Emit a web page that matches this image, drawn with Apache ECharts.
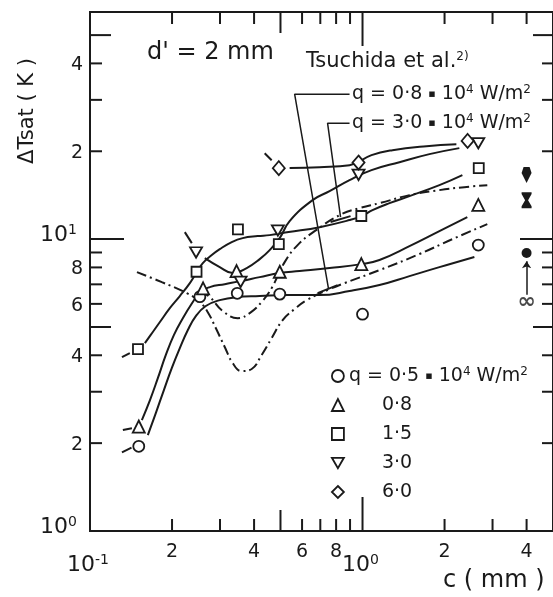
<!DOCTYPE html>
<html>
<head>
<meta charset="utf-8">
<script src="https://cdn.jsdelivr.net/npm/echarts@6/dist/echarts.min.js"></script>
<style>
  html, body { margin: 0; padding: 0; background: #fff; }
  #chart { width: 553px; height: 597px; }
</style>
</head>
<body>
<div id="chart"></div>
<script>
// Measured points: [c (mm), ΔTsat (K)] for each heat flux q (10^4 W/m²)
const q05Points = [[0.151, 1.95], [0.253, 6.35], [0.347, 6.52], [0.497, 6.48], [1.0, 5.53], [2.66, 9.54]];
const q08Points = [[0.151, 2.28], [0.26, 6.78], [0.345, 7.77], [0.497, 7.73], [0.99, 8.21], [2.66, 13.1]];
const q15Points = [[0.15, 4.2], [0.246, 7.73], [0.349, 10.8], [0.493, 9.61], [0.99, 12.0], [2.67, 17.5]];
const q30Points = [[0.245, 9.0], [0.357, 7.14], [0.489, 10.7], [0.967, 16.6], [2.66, 21.3]];
const q60Points = [[0.493, 17.5], [0.967, 18.3], [2.43, 21.7]];

// Faired curves through the measurements (short lead-in strokes drawn separately)
const q05Lead = [[0.131, 1.86], [0.142, 1.93]];
const q05Curve = [[0.163, 2.13], [0.1745, 2.54], [0.1867, 3.04], [0.1997, 3.62], [0.2136, 4.23], [0.2286, 4.88],
  [0.2445, 5.45], [0.266, 5.90], [0.2993, 6.18], [0.3455, 6.33], [0.4195, 6.38], [0.5313, 6.43], [0.6958, 6.43],
  [0.8962, 6.64], [1.154, 6.96], [1.487, 7.47], [1.915, 8.02], [2.573, 8.68]];
const q08Lead = [[0.132, 2.22], [0.1425, 2.25]];
const q08Curve = [[0.155, 2.40], [0.166, 2.81], [0.1774, 3.34], [0.1898, 4.01], [0.2031, 4.69], [0.2191, 5.36],
  [0.2384, 6.09], [0.2529, 6.58], [0.2752, 6.85], [0.3122, 7.01], [0.3574, 7.18], [0.4195, 7.41], [0.4966, 7.65],
  [0.5877, 7.77], [0.757, 7.96], [0.9916, 8.21], [1.154, 8.48], [1.487, 9.46], [1.915, 10.65], [2.424, 11.89]];
const q15Lead = [[0.131, 3.94], [0.140, 4.07]];
const q15Curve = [[0.159, 4.40], [0.169, 4.77], [0.1805, 5.20], [0.1963, 5.80], [0.2136, 6.38], [0.2325, 7.07],
  [0.2466, 7.71], [0.2594, 8.28], [0.2798, 8.82], [0.2993, 9.24], [0.3312, 9.77], [0.3634, 10.08], [0.4125, 10.24],
  [0.4564, 10.32], [0.5357, 10.57], [0.6958, 10.99], [0.8962, 11.62], [0.9916, 11.99], [1.088, 12.57],
  [1.256, 13.28], [1.487, 14.04], [1.915, 15.31], [2.325, 16.57]];
const q30Lead = [[0.2228, 10.57], [0.2364, 9.69]];
const q30Curve = [[0.2638, 8.61], [0.2993, 8.02], [0.334, 7.65], [0.3759, 7.96], [0.4195, 8.54], [0.4564, 9.17],
  [0.4966, 10.08], [0.5402, 11.53], [0.6559, 13.60], [0.757, 14.6], [0.8962, 15.93], [1.079, 17.23],
  [1.366, 18.35], [1.76, 19.55], [2.266, 20.50]];
const q60Lead = [[0.4375, 19.70], [0.4642, 18.64]];
const q60Curve = [[0.5402, 17.51], [0.6958, 17.64], [0.8962, 17.92], [1.079, 19.40], [1.288, 20.17],
  [1.716, 20.82], [2.21, 21.15]];

// Tsuchida et al. correlations, q = 0.8 and 3.0 x 10^4 W/m²
const tsuchida08 = [[0.1487, 7.71], [0.1835, 7.12], [0.2266, 6.53], [0.2529, 6.09], [0.2705, 5.62], [0.2894, 4.96],
  [0.3122, 4.27], [0.334, 3.76], [0.3604, 3.53], [0.3921, 3.59], [0.4266, 4.01], [0.4642, 4.58], [0.5094, 5.28],
  [0.5635, 5.76], [0.6236, 6.18], [0.757, 6.74], [0.8592, 7.07], [1.154, 7.83], [1.618, 8.89], [2.137, 10.0],
  [2.870, 11.25]];
const tsuchida30 = [[0.2529, 6.64], [0.2752, 6.33], [0.307, 5.67], [0.3484, 5.36], [0.3856, 5.58], [0.4266, 6.09],
  [0.4642, 6.80], [0.518, 8.34], [0.5779, 9.54], [0.6672, 10.65], [0.8377, 12.18], [0.975, 12.77], [1.154, 13.28],
  [1.487, 14.15], [1.915, 14.72], [2.364, 15.07], [2.870, 15.31]];

// Leader lines from the correlation labels to their curves
const leader08 = [[0.8962, 31.38], [0.5635, 31.38], [0.7507, 6.74]];
const leader08Bar = [[0.6843, 6.53], [0.8098, 6.96]];
const leader30 = [[0.8962, 24.96], [0.7443, 24.96], [0.8306, 11.89]];
const leader30Bar = [[0.7636, 11.44], [0.9036, 11.99]];

// Values for an unconfined gap (c -> ∞), plotted at the right margin
const poolQ60 = [[4.0, 16.6]];
const poolQ30 = [[4.0, 13.6]];
const poolQ05 = [[4.0, 8.96]];
const infinityMark = [[4.0, 6.08]];
const infinityArrow = [[4.0, 6.45], [4.0, 8.4]];

// Axis ticks and labels
const xMinorTicks = [0.2, 0.3, 0.4, 0.6, 0.7, 0.8, 0.9, 2, 3, 4];
const xMidTicks = [0.5];
const xMajorTicks = [1];
const yMinorTicks = [2, 3, 4, 6, 7, 8, 9, 20, 30, 40];
const yMidTicks = [5, 50];
const yMajorTicks = [10];
const xLabelValues = [0.1, 0.2, 0.4, 0.6, 0.8, 1, 2, 4];
const xLabelTexts = ['10^-1', '2', '4', '6', '8', '10^0', '2', '4'];
const yLabelValues = [1, 2, 4, 6, 8, 10, 20, 40];
const yLabelTexts = ['10^0', '2', '4', '6', '8', '10^1', '2', '4'];

const legendNames = ['q05', 'q08', 'q15', 'q30', 'q60'];
const legendTexts = ['q = 0·5', '0·8', '1·5', '3·0', '6·0'];

const INK = '#1a1a1a';
const FONT = 'DejaVu Sans';

const chart = echarts.init(document.getElementById('chart'), null, { renderer: 'canvas' });

function curve(data, dashed) {
  return {
    type: 'line', data, symbol: 'none', showSymbol: false, silent: true,
    smooth: 0.45, z: 2,
    lineStyle: { color: INK, width: 2, type: dashed ? [10, 4, 2, 4] : 'solid' }
  };
}
function leader(data, w) {
  return { type: 'line', data, symbol: 'none', showSymbol: false, silent: true, z: 2,
    lineStyle: { color: INK, width: w || 1.5 } };
}
function markers(name, data, symbol, size) {
  return {
    type: 'scatter', name, data, symbol, symbolSize: size, z: 4, silent: true,
    itemStyle: { color: '#fff', borderColor: INK, borderWidth: 1.8, opacity: 1 }
  };
}
function solid(data, symbol, size) {
  return { type: 'scatter', data, symbol, symbolSize: size, z: 4, silent: true,
    itemStyle: { color: INK, opacity: 1 } };
}

const DOWN_TRIANGLE = 'path://M0,0 L12,0 L6,10.4 Z';

const legendRich = {
  a: { fontSize: 19, fontFamily: FONT, color: INK, lineHeight: 20 },
  s: { fontSize: 12, fontFamily: FONT, color: INK, lineHeight: 12, verticalAlign: 'top' },
  m: { fontSize: 11, fontFamily: FONT, color: INK, lineHeight: 20 },
  b: { fontSize: 19, fontFamily: FONT, color: INK, lineHeight: 20, padding: [0, 0, 0, 33] }
};

const option = {
  animation: false,
  backgroundColor: '#fff',
  grid: { left: 90, top: 12, width: 464, height: 519, show: true, borderColor: INK, borderWidth: 2 },
  xAxis: { type: 'log', logBase: 10, min: 0.1, max: 5,
    axisLine: { show: false }, axisTick: { show: false }, axisLabel: { show: false }, splitLine: { show: false } },
  yAxis: { type: 'log', logBase: 10, min: 1, max: 60,
    axisLine: { show: false }, axisTick: { show: false }, axisLabel: { show: false }, splitLine: { show: false } },
  legend: {
    orient: 'vertical', left: 326, top: 361, itemWidth: 12, itemHeight: 12, itemGap: 10,
    selectedMode: false,
    data: [
      { name: 'q05', icon: 'circle' },
      { name: 'q08', icon: 'triangle' },
      { name: 'q15', icon: 'rect' },
      { name: 'q30', icon: DOWN_TRIANGLE },
      { name: 'q60', icon: 'diamond' }
    ],
    itemStyle: { color: '#fff', borderColor: INK, borderWidth: 1.8 },
    formatter: name => {
      const i = legendNames.indexOf(name);
      return i === 0 ? '{a|' + legendTexts[0] + ' }{m|▪}{a| 10}{s|4}{a| W/m}{s|2}' : '{b|' + legendTexts[i] + '}';
    },
    textStyle: { color: INK, fontFamily: FONT, fontSize: 19, rich: legendRich }
  },
  series: [
    curve(q05Lead), curve(q05Curve), curve(q08Lead), curve(q08Curve), curve(q15Lead), curve(q15Curve),
    curve(q30Lead), curve(q30Curve), curve(q60Lead), curve(q60Curve),
    curve(tsuchida08, true), curve(tsuchida30, true),
    leader(leader08), leader(leader08Bar, 2), leader(leader30), leader(leader30Bar, 2),
    markers('q05', q05Points, 'circle', 11),
    markers('q08', q08Points, 'triangle', 12),
    markers('q15', q15Points, 'rect', 10),
    markers('q30', q30Points, DOWN_TRIANGLE, [12, 10.4]),
    markers('q60', q60Points, 'diamond', [12, 14]),
    solid(poolQ60, 'path://M2,0 L8,0 L10,6 L5,16 L0,6 Z', [10, 16]),
    solid(poolQ30, 'path://M0,0 L10,0 L10,2 L6.5,8.5 L10,15 L10,17 L0,17 L0,15 L3.5,8.5 L0,2 Z', [10, 16]),
    solid(poolQ05, 'circle', 10),
    {
      type: 'scatter', data: infinityMark, symbol: 'circle', symbolSize: 1, silent: true, z: 4,
      itemStyle: { color: 'rgba(0,0,0,0)' },
      label: { show: true, position: 'inside', formatter: '∞', fontSize: 22, fontWeight: 'bold', fontFamily: FONT, color: INK }
    },
    {
      type: 'lines', coordinateSystem: 'cartesian2d', silent: true, z: 3,
      symbol: ['none', 'arrow'], symbolSize: 7,
      lineStyle: { color: INK, width: 1.5, opacity: 1 },
      data: [{ coords: infinityArrow }]
    }
  ]
};

chart.setOption(option);

// Ticks, tick labels and annotations placed through the axis scales
const px = v => chart.convertToPixel({ xAxisIndex: 0 }, v);
const py = v => chart.convertToPixel({ yAxisIndex: 0 }, v);
const LEFT = 90, RIGHT = 554, TOP = 12, BOTTOM = 531;
const TICK_LEN = { minor: 12, mid: 21, major: 34 };
const g = [];
const seg = (x1, y1, x2, y2, w) => ({ type: 'line', silent: true, z: 10,
  shape: { x1, y1, x2, y2 }, style: { stroke: INK, lineWidth: w || 2 } });

[[xMinorTicks, TICK_LEN.minor], [xMidTicks, TICK_LEN.mid], [xMajorTicks, TICK_LEN.major]].forEach(([vals, len]) => {
  vals.forEach(v => { const x = px(v); g.push(seg(x, BOTTOM, x, BOTTOM - len)); g.push(seg(x, TOP, x, TOP + len)); });
});
[[yMinorTicks, TICK_LEN.minor], [yMidTicks, TICK_LEN.mid], [yMajorTicks, TICK_LEN.major]].forEach(([vals, len]) => {
  vals.forEach(v => { const y = py(v); g.push(seg(LEFT, y, LEFT + len, y)); g.push(seg(RIGHT, y, RIGHT - len, y)); });
});

const labelRich = {
  b: { fontSize: 22, fontFamily: FONT, fill: INK, lineHeight: 24 },
  s: { fontSize: 14, fontFamily: FONT, fill: INK, lineHeight: 14, verticalAlign: 'top' },
  n: { fontSize: 19, fontFamily: FONT, fill: INK, lineHeight: 20 },
  w: { fontSize: 21, fontFamily: FONT, fill: INK, lineHeight: 22 },
  m: { fontSize: 11, fontFamily: FONT, fill: INK, lineHeight: 20 },
  t: { fontSize: 12, fontFamily: FONT, fill: INK, lineHeight: 12, verticalAlign: 'top' }
};
function richLabel(txt) {
  if (txt.indexOf('^') >= 0) { const p = txt.split('^'); return '{b|' + p[0] + '}{s|' + p[1] + '}'; }
  return '{n|' + txt + '}';
}
function text(x, y, str, align, extra) {
  return Object.assign({ type: 'text', x, y, silent: true, z: 10,
    style: { text: str, rich: labelRich, align: align || 'left', verticalAlign: 'middle', fill: INK,
      font: '19px ' + FONT } }, extra || {});
}

xLabelValues.forEach((v, i) => {
  const t = xLabelTexts[i];
  const power = t.indexOf('^') >= 0;
  g.push(text(px(v) + (power ? -2 : 0), power ? 565 : 552, richLabel(t), 'center'));
});
yLabelValues.forEach((v, i) => {
  const t = yLabelTexts[i];
  if (t.indexOf('^') >= 0) g.push(text(40, py(v) - 4, richLabel(t), 'left'));
  else g.push(text(83, py(v) + 2, richLabel(t), 'right'));
});

// Axis titles
g.push(text(28, 111, 'ΔTsat ( K )', 'center', { rotation: Math.PI / 2,
  style: { text: 'ΔTsat ( K )', font: '21px ' + FONT, fill: INK, align: 'center', verticalAlign: 'middle' } }));
g.push({ type: 'text', x: 443, y: 581, silent: true, z: 10,
  style: { text: 'c ( mm )', font: '24px ' + FONT, fill: INK, align: 'left', verticalAlign: 'middle' } });

// Annotations
g.push({ type: 'text', x: 147, y: 53, silent: true, z: 10,
  style: { text: "d' = 2 mm", font: '24px ' + FONT, fill: INK, align: 'left', verticalAlign: 'middle' } });
g.push(text(306, 62, '{w|Tsuchida et al.}{t|2)}', 'left'));
g.push(text(352, 94, '{n|q = 0·8 }{m|▪}{n| 10}{t|4}{n| W/m}{t|2}', 'left'));
g.push(text(352, 123, '{n|q = 3·0 }{m|▪}{n| 10}{t|4}{n| W/m}{t|2}', 'left'));

chart.setOption({ graphic: { elements: g } });
</script>
</body>
</html>
